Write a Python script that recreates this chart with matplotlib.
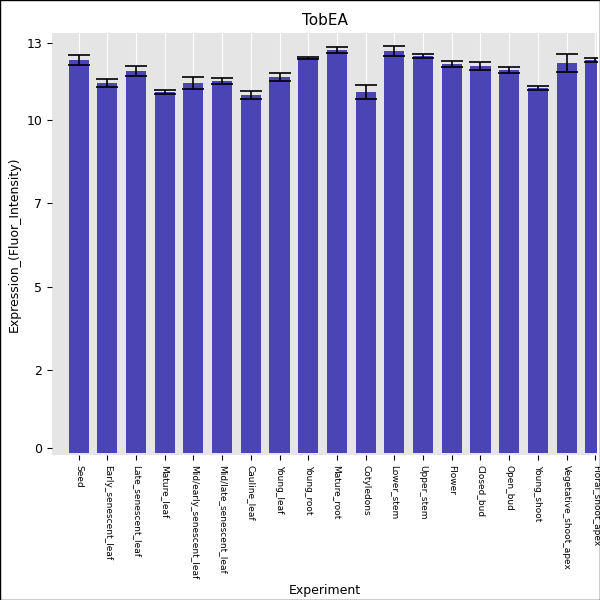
import numpy as np
import matplotlib.pyplot as plt

experiments = ["Seed", "Early_senescent_leaf", "Late_senescent_leaf", "Mature_leaf",
               "Mid/early_senescent_leaf", "Mid/late_senescent_leaf", "Cauline_leaf",
               "Young_leaf", "Young_root", "Mature_root", "Cotyledons", "Lower_stem",
               "Upper_stem", "Flower", "Closed_bud", "Open_bud", "Young_shoot",
               "Vegetative_shoot_apex", "Floral_shoot_apex"]
values = [11.80, 11.11, 11.47, 10.84, 11.11, 11.17, 10.75, 11.29, 11.86, 12.10,
          10.84, 12.07, 11.92, 11.68, 11.62, 11.50, 10.96, 11.71, 11.80]
errors = [0.15, 0.12, 0.15, 0.06, 0.18, 0.09, 0.12, 0.12, 0.03, 0.09,
          0.21, 0.15, 0.05, 0.09, 0.12, 0.09, 0.06, 0.27, 0.06]
ytick_pos = [0.15, 2.5, 5.0, 7.5, 10.0, 12.3]
ytick_labels = ["0", "2", "5", "7", "10", "13"]

fig = plt.figure(figsize=(6, 6), dpi=100)
ax = fig.add_axes([0.087, 0.242, 0.908, 0.703])
ax.set_facecolor("#e5e5e5")
x = np.arange(len(experiments))
ax.grid(axis="x", color="white", linewidth=0.8)
ax.set_axisbelow(True)
ax.bar(x, values, width=0.7, color="#4b44b4", yerr=errors,
       error_kw=dict(ecolor="black", capsize=8, elinewidth=1.2, capthick=1.2))
ax.set_xlim(-0.92, len(experiments) + 0.06 - 1)
ax.set_ylim(-0.05, 12.61)
ax.set_yticks(ytick_pos)
ax.set_yticklabels(ytick_labels, fontsize=9)
ax.set_xticks(x)
ax.set_xticklabels(experiments, rotation=-90, fontsize=6.5)
ax.set_xlabel("Experiment", fontsize=9)
ax.set_ylabel("Expression_(Fluor_Intensity)", fontsize=9)
ax.set_title("TobEA", fontsize=11)
for s in ax.spines.values():
    s.set_visible(False)
fig.patches.append(plt.Rectangle((0, 0), 1, 1, transform=fig.transFigure,
                                 fill=False, edgecolor="black", linewidth=1))
fig.savefig("out.png")
